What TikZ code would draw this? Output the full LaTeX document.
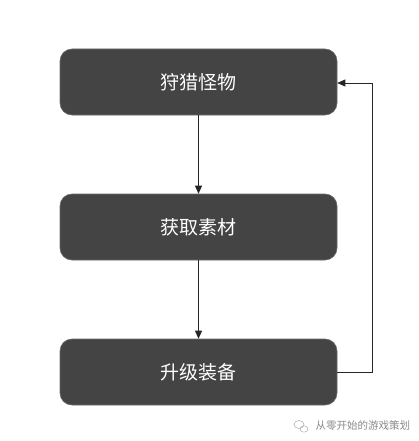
\documentclass[tikz,border=0pt]{standalone}
\usepackage{fontspec}
\newfontfamily\cjk{Noto Sans CJK SC}
\usetikzlibrary{arrows.meta}
\definecolor{boxfill}{HTML}{444444}
\definecolor{wm}{HTML}{8A8A8A}
\begin{document}
\begin{tikzpicture}[x=1pt,y=-1pt,
  stepbox/.style={draw=boxfill!80!white,line width=0.6pt,fill=boxfill,rounded corners=12pt,minimum width=277pt,minimum height=66pt,inner sep=0pt,text=white,font=\cjk\fontsize{19}{19}\selectfont},
  conn/.style={draw=black!85,line width=0.8pt,-{Triangle[length=8pt,width=7pt]}}]
\useasboundingbox[fill=white] (0,0) rectangle (418,441);
\node[stepbox] (a) at (198.5,82) {狩猎怪物};
\node[stepbox] (b) at (198.5,227) {获取素材};
\node[stepbox] (c) at (198.5,372) {升级装备};
\draw[conn] (a) -- (b);
\draw[conn] (b) -- (c);
\coordinate (r1) at (372,372);
\coordinate (r2) at (372,83);
\draw[conn] (c.east |- r1) -- (r1) -- (r2) -- (a.east |- r2);
\node[font=\cjk\fontsize{10.5}{10.5}\selectfont,text=wm,anchor=west] (wmt) at (312,426) {从零开始的游戏策划};
\begin{scope}[draw=wm!70!white,line width=0.5pt]
\draw (299,424.5) ellipse (5pt and 4pt);
\draw (304,429) ellipse (4pt and 3.2pt);
\end{scope}
\end{tikzpicture}
\end{document}
